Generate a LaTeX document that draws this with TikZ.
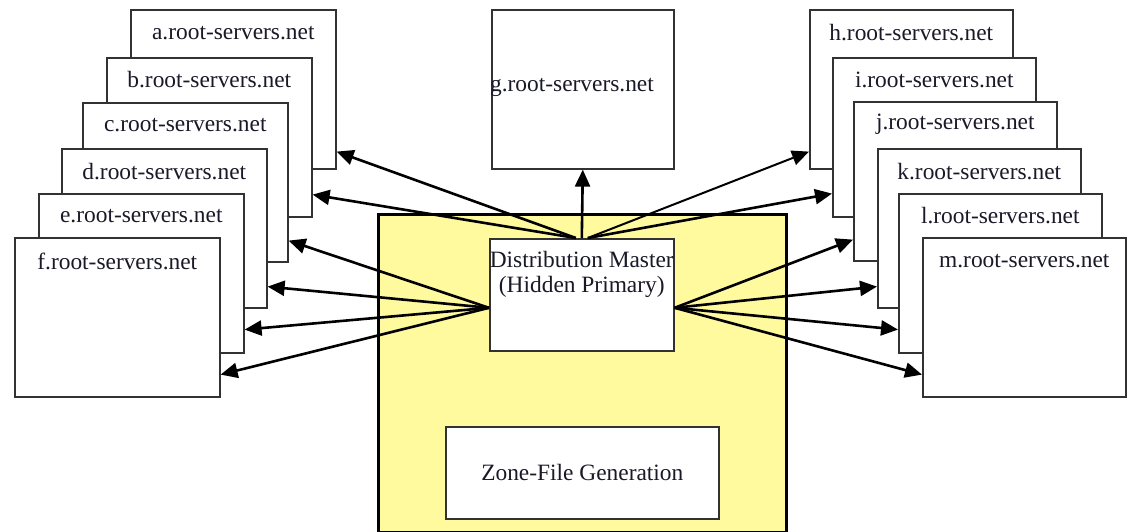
\documentclass[tikz,border=0pt]{standalone}
\usepackage{fontspec}
\setmainfont{Liberation Serif}
\usetikzlibrary{arrows.meta}
\definecolor{zoneyellow}{RGB}{255,250,158}
\definecolor{boxline}{RGB}{50,50,50}
\definecolor{ink}{RGB}{25,25,40}
\begin{document}
\begin{tikzpicture}[x=1pt,y=-1pt,
  srv/.style={draw=boxline, line width=1.6pt, fill=white, inner sep=0pt,
    anchor=north west, minimum width=205pt, minimum height=159pt},
  lbl/.style={text=ink, inner sep=0pt, font=\fontsize{23.4}{25}\selectfont},
  feed/.style={line width=2.6pt, -{Triangle[length=17pt,width=15pt]}}
]
\useasboundingbox (0,0) rectangle (1127,531);

% left stack of root servers, back to front
\node[srv] (a) at (130,9)   {};
\node[lbl] (al) at ([yshift=-24pt]a.north) {a.root-servers.net};
\node[srv] (b) at (106,57)  {};
\node[lbl] (bl) at ([yshift=-23pt]b.north) {b.root-servers.net};
\node[srv] (c) at (82,102)  {};
\node[lbl] (cl) at ([yshift=-23pt]c.north) {c.root-servers.net};
\node[srv] (d) at (61,148)  {};
\node[lbl] (dl) at ([yshift=-24pt]d.north) {d.root-servers.net};
\node[srv] (e) at (38,193)  {};
\node[lbl] (el) at ([yshift=-23pt]e.north) {e.root-servers.net};
\node[srv] (f) at (14,237)  {};
\node[lbl] (fl) at ([yshift=-24pt]f.north) {f.root-servers.net};

% right stack of root servers, back to front
\node[srv, minimum width=203pt] (h) at (809,9)   {};
\node[lbl] (hl) at ([yshift=-24pt]h.north) {h.root-servers.net};
\node[srv, minimum width=203pt] (i) at (832,57)  {};
\node[lbl] (il) at ([yshift=-23pt]i.north) {i.root-servers.net};
\node[srv, minimum width=203pt] (j) at (853,101) {};
\node[lbl] (jl) at ([yshift=-23pt]j.north) {j.root-servers.net};
\node[srv, minimum width=203pt] (k) at (877,148) {};
\node[lbl] (kl) at ([yshift=-24pt]k.north) {k.root-servers.net};
\node[srv, minimum width=203pt] (l) at (898,193) {};
\node[lbl] (ll) at ([yshift=-23pt]l.north) {l.root-servers.net};
\node[srv, minimum width=203pt] (m) at (922,237) {};
\node[lbl] (ml) at ([yshift=-24pt]m.north) {m.root-servers.net};

% g server above the distribution master
\node[srv, minimum width=182pt] (g) at (491,9) {};
\node[lbl] (gl) at (572,87) {g.root-servers.net};

% zone-file site
\node[draw=black, line width=3pt, fill=zoneyellow, inner sep=0pt, anchor=north west,
  minimum width=408pt, minimum height=318pt] (site) at (377,213) {};
\node[srv, minimum width=184pt, minimum height=112pt] (dm) at (489,238) {};
\node[lbl, align=center] (dml) at ([yshift=-36pt]dm.north) {Distribution Master\\(Hidden Primary)};
\node[srv, minimum width=273pt, minimum height=92pt, lbl, draw=boxline, line width=1.6pt,
  fill=white, anchor=north west] (zone) at (445,426) {Zone-File Generation};

% distribution arrows
\draw[feed] ([xshift=-6pt]dm.north) -- ([yshift=18pt]a.south east);
\draw[feed] ([xshift=-6pt]dm.north) -- ([yshift=23pt]b.south east);
\draw[feed] ([yshift=-13pt]dm.west) -- ([yshift=22pt]c.south east);
\draw[feed] ([yshift=-13pt]dm.west) -- ([yshift=22pt]d.south east);
\draw[feed] ([yshift=-13pt]dm.west) -- ([yshift=24pt]e.south east);
\draw[feed] ([yshift=-13pt]dm.west) -- ([yshift=23pt]f.south east);
\draw[feed] (dm.north) -- (g.south);
\draw[feed, line width=2pt] ([xshift=6pt]dm.north) -- ([yshift=18pt]h.south west);
\draw[feed] ([xshift=6pt]dm.north) -- ([yshift=24pt]i.south west);
\draw[feed] ([yshift=-13pt]dm.east) -- ([yshift=22pt]j.south west);
\draw[feed] ([yshift=-13pt]dm.east) -- ([yshift=22pt]k.south west);
\draw[feed] ([yshift=-13pt]dm.east) -- ([yshift=24pt]l.south west);
\draw[feed] ([yshift=-13pt]dm.east) -- ([yshift=23pt]m.south west);
\end{tikzpicture}
\end{document}
